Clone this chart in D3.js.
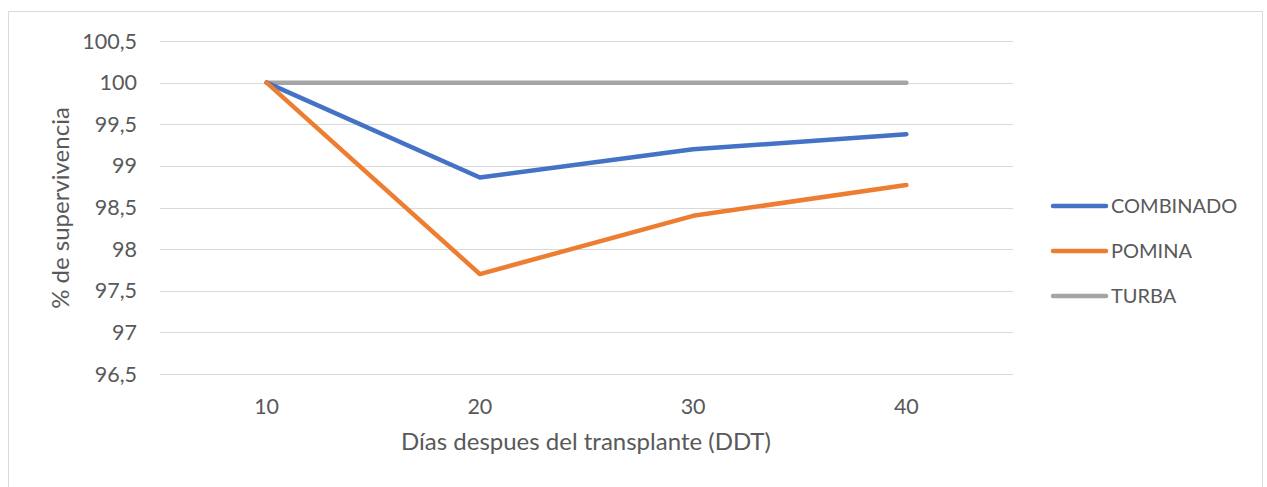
<!DOCTYPE html>
<html><head><meta charset="utf-8">
<script src="https://cdn.jsdelivr.net/npm/d3@7"></script>
<style>body{margin:0;background:#fff}svg text{font-family:Lato,"Open Sans",sans-serif;fill:#595959}</style>
</head><body><svg id="c" width="1267" height="487"></svg>
<script>
const categories = ["10","20","30","40"];
const combinado = [100, 98.86, 99.2, 99.38];
const pomina = [100, 97.7, 98.4, 98.77];
const turba = [100, 100, 100, 100];
const yTicks = [96.5, 97, 97.5, 98, 98.5, 99, 99.5, 100, 100.5];
const seriesNames = ["COMBINADO", "POMINA", "TURBA"];
const seriesColors = ["#4472C4", "#ED7D31", "#A5A5A5"];
const seriesData = [combinado, pomina, turba];

const svg = d3.select("#c");
svg.append("rect").attr("x",8.5).attr("y",11.5).attr("width",1254).attr("height",490)
  .attr("fill","#fff").attr("stroke","#D9D9D9");

const x = d3.scaleBand().domain(categories).range([160,1013]);
const y = d3.scaleLinear().domain([96.5,100.5]).range([374,41]);

const g = svg.append("g");
g.selectAll("line.grid").data(yTicks).enter().append("line")
  .attr("x1",160).attr("x2",1013)
  .attr("y1",d=>Math.round(y(d))+0.5).attr("y2",d=>Math.round(y(d))+0.5)
  .attr("stroke","#D9D9D9").attr("stroke-width",1);

const fmt = d => String(d).replace(".", ",");
g.selectAll("text.yt").data(yTicks).enter().append("text")
  .attr("x",137).attr("y",d=>y(d)).attr("dy","0.35em").attr("text-anchor","end")
  .attr("font-size",21.5).text(fmt);

g.selectAll("text.xt").data(categories).enter().append("text")
  .attr("x",d=>x(d)+x.bandwidth()/2).attr("y",406).attr("dy","0.35em").attr("text-anchor","middle")
  .attr("font-size",21.5).text(d=>d);

svg.append("text").attr("x",586).attr("y",442).attr("dy","0.35em").attr("text-anchor","middle")
  .attr("font-size",24).text("Días despues del transplante (DDT)");
svg.append("text").attr("transform","translate(61,208) rotate(-90)").attr("dy","0.35em")
  .attr("text-anchor","middle").attr("font-size",24).text("% de supervivencia");

const line = d3.line().x((d,i)=>x(categories[i])+x.bandwidth()/2).y(d=>y(d));
[2,0,1].forEach(k=>{
  g.append("path").attr("d",line(seriesData[k])).attr("fill","none")
   .attr("stroke",seriesColors[k]).attr("stroke-width",4.5)
   .attr("stroke-linejoin","round").attr("stroke-linecap","round");
});

const leg = svg.append("g");
seriesNames.forEach((n,i)=>{
  const yy = 206 + i*45;
  leg.append("line").attr("x1",1053).attr("x2",1106).attr("y1",yy).attr("y2",yy)
    .attr("stroke",seriesColors[i]).attr("stroke-width",4.5).attr("stroke-linecap","round");
  leg.append("text").attr("x",1111).attr("y",yy).attr("dy","0.35em").attr("font-size",20).text(n);
});
</script></body></html>
